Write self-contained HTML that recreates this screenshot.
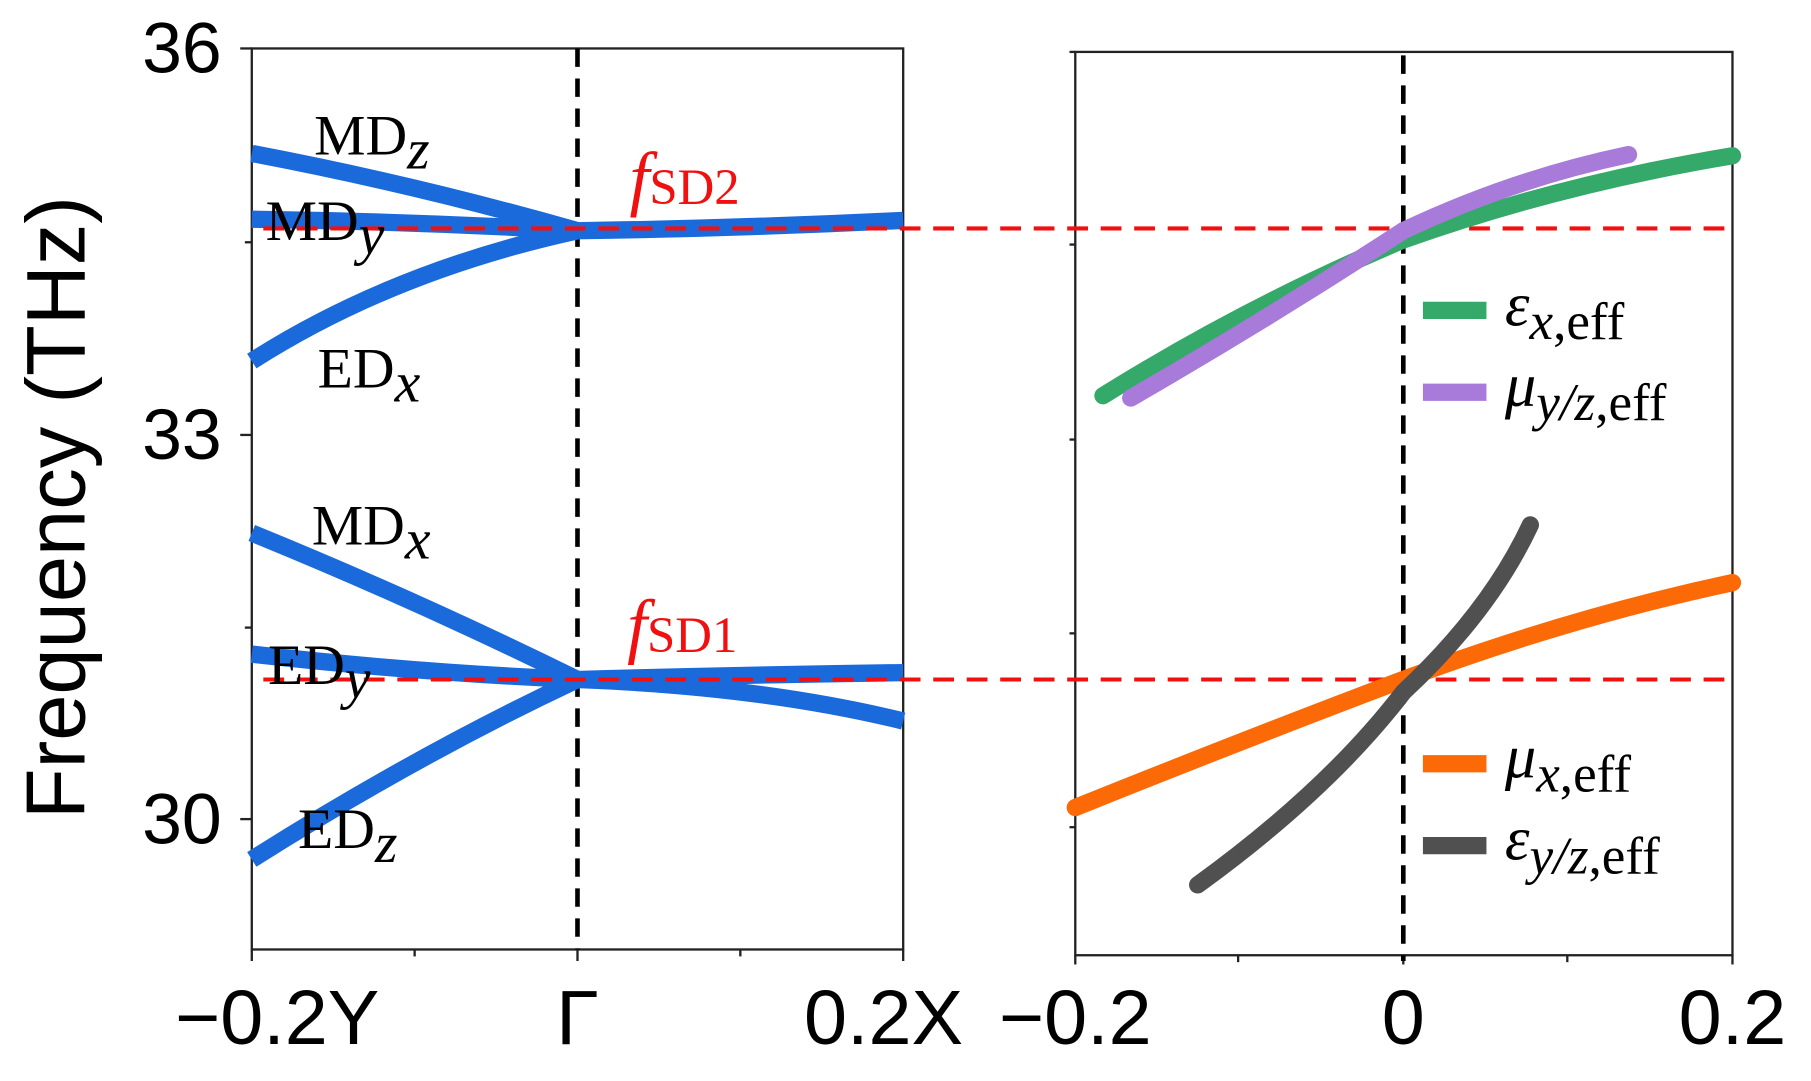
<!DOCTYPE html>
<html><head><meta charset="utf-8"><style>
html,body{margin:0;padding:0;background:#fff;}
svg{display:block;}
.s{font-family:"Liberation Sans",sans-serif;}
.r{font-family:"Liberation Serif",serif;}
</style></head><body>
<svg width="1811" height="1081" viewBox="0 0 1568 937" preserveAspectRatio="none" xmlns="http://www.w3.org/2000/svg">
<rect width="1570" height="940" fill="#fff"/>
<!-- left axes -->
<rect x="218" y="42" width="564" height="781" fill="none" stroke="#222" stroke-width="2"/>
<g stroke="#222" stroke-width="2">
<line x1="208" y1="42" x2="218" y2="42"/><line x1="208" y1="377" x2="218" y2="377"/><line x1="208" y1="710" x2="218" y2="710"/>
<line x1="212" y1="210" x2="218" y2="210"/><line x1="212" y1="544" x2="218" y2="544"/>
<line x1="218" y1="823" x2="218" y2="833"/><line x1="359" y1="823" x2="359" y2="829"/><line x1="500" y1="823" x2="500" y2="833"/><line x1="641" y1="823" x2="641" y2="829"/><line x1="782" y1="823" x2="782" y2="833"/>
</g>
<line x1="500" y1="42" x2="500" y2="823" stroke="#000" stroke-width="4" stroke-dasharray="16,10"/>
<!-- left curves -->
<g fill="none" stroke="#1b6adb" stroke-width="15">
<path d="M218,133 Q360,160 500,200"/>
<path d="M218,190 Q360,192 500,200"/>
<path d="M218,313 Q340,235 500,200"/>
<path d="M500,200 Q640,198 782,191"/>
<path d="M218,462 Q360,520 500,589"/>
<path d="M218,567 Q360,583 500,589"/>
<path d="M218,745 Q360,655 500,589"/>
<path d="M500,589 Q640,585 782,583"/>
<path d="M500,589 Q660,595 782,625"/>
</g>
<!-- right axes -->
<rect x="931" y="45" width="569" height="783" fill="none" stroke="#222" stroke-width="2"/>
<g stroke="#222" stroke-width="2">
<line x1="926" y1="45" x2="931" y2="45"/><line x1="926" y1="212" x2="931" y2="212"/><line x1="926" y1="381" x2="931" y2="381"/><line x1="926" y1="549" x2="931" y2="549"/><line x1="926" y1="717" x2="931" y2="717"/>
<line x1="931" y1="828" x2="931" y2="836"/><line x1="1072" y1="828" x2="1072" y2="834"/><line x1="1215" y1="828" x2="1215" y2="836"/><line x1="1357" y1="828" x2="1357" y2="834"/><line x1="1500" y1="828" x2="1500" y2="836"/>
</g>
<line x1="1215" y1="48" x2="1215" y2="833" stroke="#000" stroke-width="4" stroke-dasharray="16,10"/>
<!-- red dashed -->
<g stroke="#f01010" stroke-width="3.5" stroke-dasharray="18,11">
<line x1="228" y1="198" x2="1500" y2="198"/>
<line x1="228" y1="589" x2="1500" y2="589"/>
</g>
<!-- right curves -->
<g fill="none" stroke-width="15" stroke-linecap="round">
<path d="M955,343 Q1080,265 1215,208 Q1350,160 1500,135" stroke="#35a96a"/>
<path d="M979,345 Q1100,275 1215,200 Q1310,155 1410,134" stroke="#a87ad9"/>
<path d="M931,700 Q1080,640 1215,589 Q1360,535 1500,505" stroke="#fb6a07"/>
<path d="M1037,767 Q1150,685 1215,600 Q1290,530 1325,455" stroke="#505050"/>
</g>
<!-- legend -->
<g stroke-width="15">
<line x1="1232" y1="269" x2="1287" y2="269" stroke="#35a96a"/>
<line x1="1232" y1="340" x2="1287" y2="340" stroke="#a87ad9"/>
<line x1="1232" y1="662" x2="1287" y2="662" stroke="#fb6a07"/>
<line x1="1232" y1="733" x2="1287" y2="733" stroke="#505050"/>
</g>
<g class="r" font-size="54" fill="#000">
<text x="1303" y="282"><tspan font-style="italic">ε</tspan><tspan font-size="46" dy="12"><tspan font-style="italic">x</tspan>,eff</tspan></text>
<text x="1303" y="352"><tspan font-style="italic">μ</tspan><tspan font-size="46" dy="12"><tspan font-style="italic">y/z</tspan>,eff</tspan></text>
<text x="1303" y="674"><tspan font-style="italic">μ</tspan><tspan font-size="46" dy="12"><tspan font-style="italic">x</tspan>,eff</tspan></text>
<text x="1303" y="745"><tspan font-style="italic">ε</tspan><tspan font-size="46" dy="12"><tspan font-style="italic">y/z</tspan>,eff</tspan></text>
</g>
<!-- mode labels -->
<g class="r" font-size="50" fill="#000">
<text x="272" y="134">MD<tspan font-style="italic" font-size="50" dy="12">z</tspan></text>
<text x="230" y="208">MD<tspan font-style="italic" font-size="50" dy="12">y</tspan></text>
<text x="275" y="336">ED<tspan font-style="italic" font-size="50" dy="12">x</tspan></text>
<text x="270" y="472">MD<tspan font-style="italic" font-size="50" dy="12">x</tspan></text>
<text x="232" y="593">ED<tspan font-style="italic" font-size="50" dy="12">y</tspan></text>
<text x="258" y="735">ED<tspan font-style="italic" font-size="50" dy="12">z</tspan></text>
</g>
<g class="r" fill="#f01010">
<text x="545" y="175" font-size="62" font-style="italic">f<tspan font-style="normal" font-size="44" dy="2">SD2</tspan></text>
<text x="543" y="563" font-size="62" font-style="italic">f<tspan font-style="normal" font-size="44" dy="2">SD1</tspan></text>
</g>
<!-- tick labels -->
<g class="s" font-size="62" fill="#000" text-anchor="end">
<text x="192" y="63">36</text>
<text x="192" y="398">33</text>
<text x="192" y="731">30</text>
</g>
<g class="s" font-size="67" fill="#000" text-anchor="middle">
<text x="240" y="905">−0.2Y</text>
<text x="500" y="905">Γ</text>
<text x="765" y="905">0.2X</text>
<text x="931" y="905">−0.2</text>
<text x="1215" y="905">0</text>
<text x="1500" y="905">0.2</text>
</g>
<text class="s" font-size="72" fill="#000" text-anchor="middle" transform="translate(73,440) rotate(-90)">Frequency (THz)</text>
</svg>
</body></html>
